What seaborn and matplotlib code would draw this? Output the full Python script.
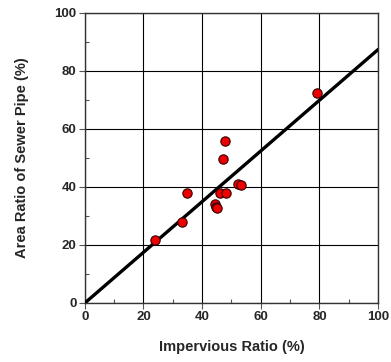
import numpy as np
import pandas as pd
import matplotlib
matplotlib.use('Agg')
import matplotlib.pyplot as plt
import seaborn as sns
from matplotlib.ticker import MultipleLocator

# Data
impervious = [79.2, 47.8, 47.0, 52.3, 53.2, 35.0, 46.1, 48.3, 44.3, 44.8, 45.0, 33.0, 23.9]
area_ratio = [72.4, 55.8, 49.6, 41.1, 40.8, 37.9, 37.9, 37.8, 34.1, 33.2, 32.6, 27.9, 21.8]
fit_x = [0, 100]
fit_y = [0, 87.3]

df = pd.DataFrame({'imp': impervious, 'area': area_ratio})
fit = pd.DataFrame({'x': fit_x, 'y': fit_y})

sns.set_style('white')
plt.rcParams['font.family'] = ['Liberation Sans', 'DejaVu Sans']

fig = plt.figure(figsize=(3.91, 3.62), dpi=100)
ax = fig.add_axes([0.217, 0.163, 0.750, 0.802])

sns.lineplot(data=fit, x='x', y='y', color='black', linewidth=2.4, ax=ax, zorder=3)
sns.scatterplot(data=df, x='imp', y='area', color='#ee0000', edgecolor='#330000',
                linewidth=0.8, s=45, ax=ax, zorder=4)

ax.set_xlim(0, 100)
ax.set_ylim(0, 100)
ax.xaxis.set_major_locator(MultipleLocator(20))
ax.yaxis.set_major_locator(MultipleLocator(20))
ax.xaxis.set_minor_locator(MultipleLocator(10))
ax.yaxis.set_minor_locator(MultipleLocator(10))
ax.grid(True, which='major', color='black', linewidth=0.8)
ax.set_axisbelow(True)

ax.tick_params(which='major', direction='out', length=4, width=0.8, color='#555555',
               labelsize=9.5, pad=2, left=True, bottom=True)
ax.tick_params(which='minor', direction='in', length=3, width=0.8, color='#555555',
               left=True, bottom=True)
for lab in ax.get_xticklabels() + ax.get_yticklabels():
    lab.set_fontweight('bold')

for sp in ax.spines.values():
    sp.set_color('#333333')
    sp.set_linewidth(1.0)

ax.set_xlabel('Impervious Ratio (%)', fontsize=10.5, fontweight='bold', labelpad=12)
ax.set_ylabel('Area Ratio of Sewer Pipe (%)', fontsize=10.5, fontweight='bold', labelpad=18)

fig.savefig('out.png', dpi=100)
